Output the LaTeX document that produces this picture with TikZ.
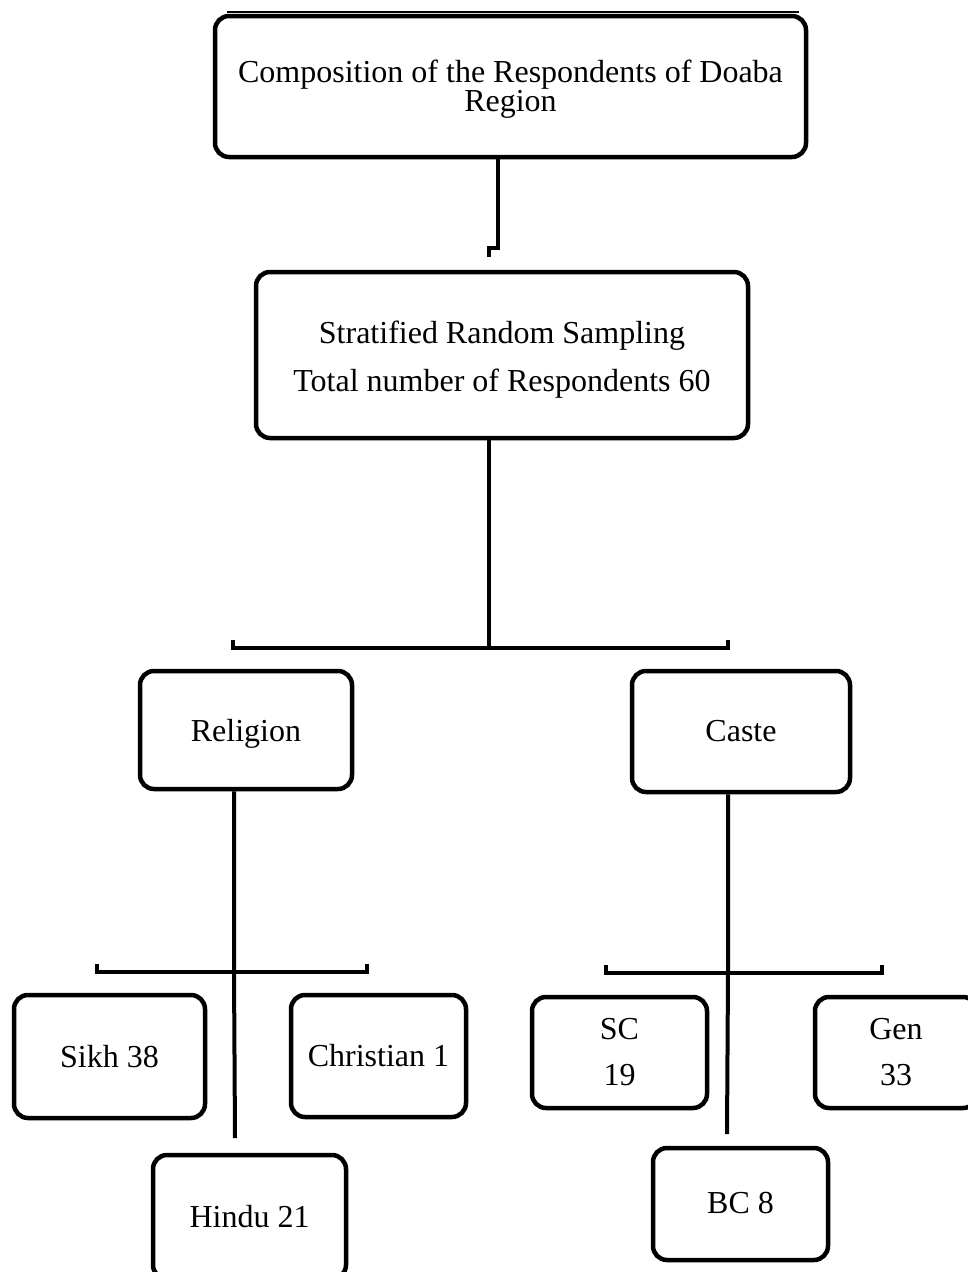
\documentclass[tikz,border=0pt]{standalone}
\usepackage{fontspec}
\setmainfont{Liberation Serif}
\begin{document}
\begin{tikzpicture}[x=1pt,y=-1pt,
  box/.style={draw=black, line width=4.5pt, rounded corners=14pt, fill=white,
    inner sep=0pt, align=center, font=\fontsize{32}{46}\selectfont},
  link/.style={draw=black, line width=4pt}]
\useasboundingbox (0,0) rectangle (967,1272);

% thin rule above the title box
\draw[line width=1.8pt] (227,12) -- (799,12);

% boxes
\node[box, minimum width=591pt, minimum height=141pt,
      font=\fontsize{32}{29}\selectfont] (top) at (510.5,86.5)
  {\rule{0pt}{28pt}Composition of the Respondents of Doaba\\Region};
\node[box, minimum width=492pt, minimum height=166pt,
      font=\fontsize{32}{48}\selectfont] (samp) at (502,355)
  {\rule{0pt}{32pt}Stratified Random Sampling\\Total number of Respondents 60};
\node[box, minimum width=212pt, minimum height=118pt,
      text height=30pt, text depth=7pt] (rel) at (246,730) {Religion};
\node[box, minimum width=218pt, minimum height=121pt,
      text height=26pt, text depth=7pt] (caste) at (741,731.5) {Caste};
\node[box, minimum width=191pt, minimum height=123pt] (sikh) at (109.5,1056.5) {Sikh 38};
\node[box, minimum width=175pt, minimum height=122pt] (chr) at (378.5,1056) {Christian 1};
\node[box, minimum width=193pt, minimum height=124pt] (hindu) at (249.5,1217) {Hindu 21};
\node[box, minimum width=175pt, minimum height=111pt] (sc) at (619.5,1052.5) {SC\\19};
\node[box, minimum width=162pt, minimum height=111pt] (gen) at (896,1052.5) {Gen\\33};
\node[box, minimum width=175pt, minimum height=112pt,
      text height=26pt, text depth=7pt] (bc) at (740.5,1204) {BC 8};

% connector points
\coordinate (j1) at (498,248);
\coordinate (j2) at (489,248);
\coordinate (j3) at (489,257);
\coordinate (m0) at (489,648);
\coordinate (mL) at (233,648);
\coordinate (mR) at (728,648);
\coordinate (r0) at (234,972);
\coordinate (rL) at (97,972);
\coordinate (rR) at (367,972);
\coordinate (rE) at (235,1138);
\coordinate (c0) at (728,973);
\coordinate (cL) at (606,973);
\coordinate (cR) at (882,973);
\coordinate (cE) at (727,1134);

% title to sampling
\draw[link] (top.south -| j1) -- (j1) -- (j2) -- (j3);
% sampling to the two strata
\draw[link] (samp.south -| m0) -- (m0);
\draw[link] ([yshift=8pt]mL) -- (mL) -- (mR) -- ([yshift=8pt]mR);
% religion branch
\draw[link] (rel.south -| r0) -- (r0) -- (rE);
\draw[link] ([yshift=8pt]rL) -- (rL) -- (rR) -- ([yshift=8pt]rR);
% caste branch
\draw[link] (caste.south -| c0) -- (c0) -- (cE);
\draw[link] ([yshift=8pt]cL) -- (cL) -- (cR) -- ([yshift=8pt]cR);
\end{tikzpicture}
\end{document}
